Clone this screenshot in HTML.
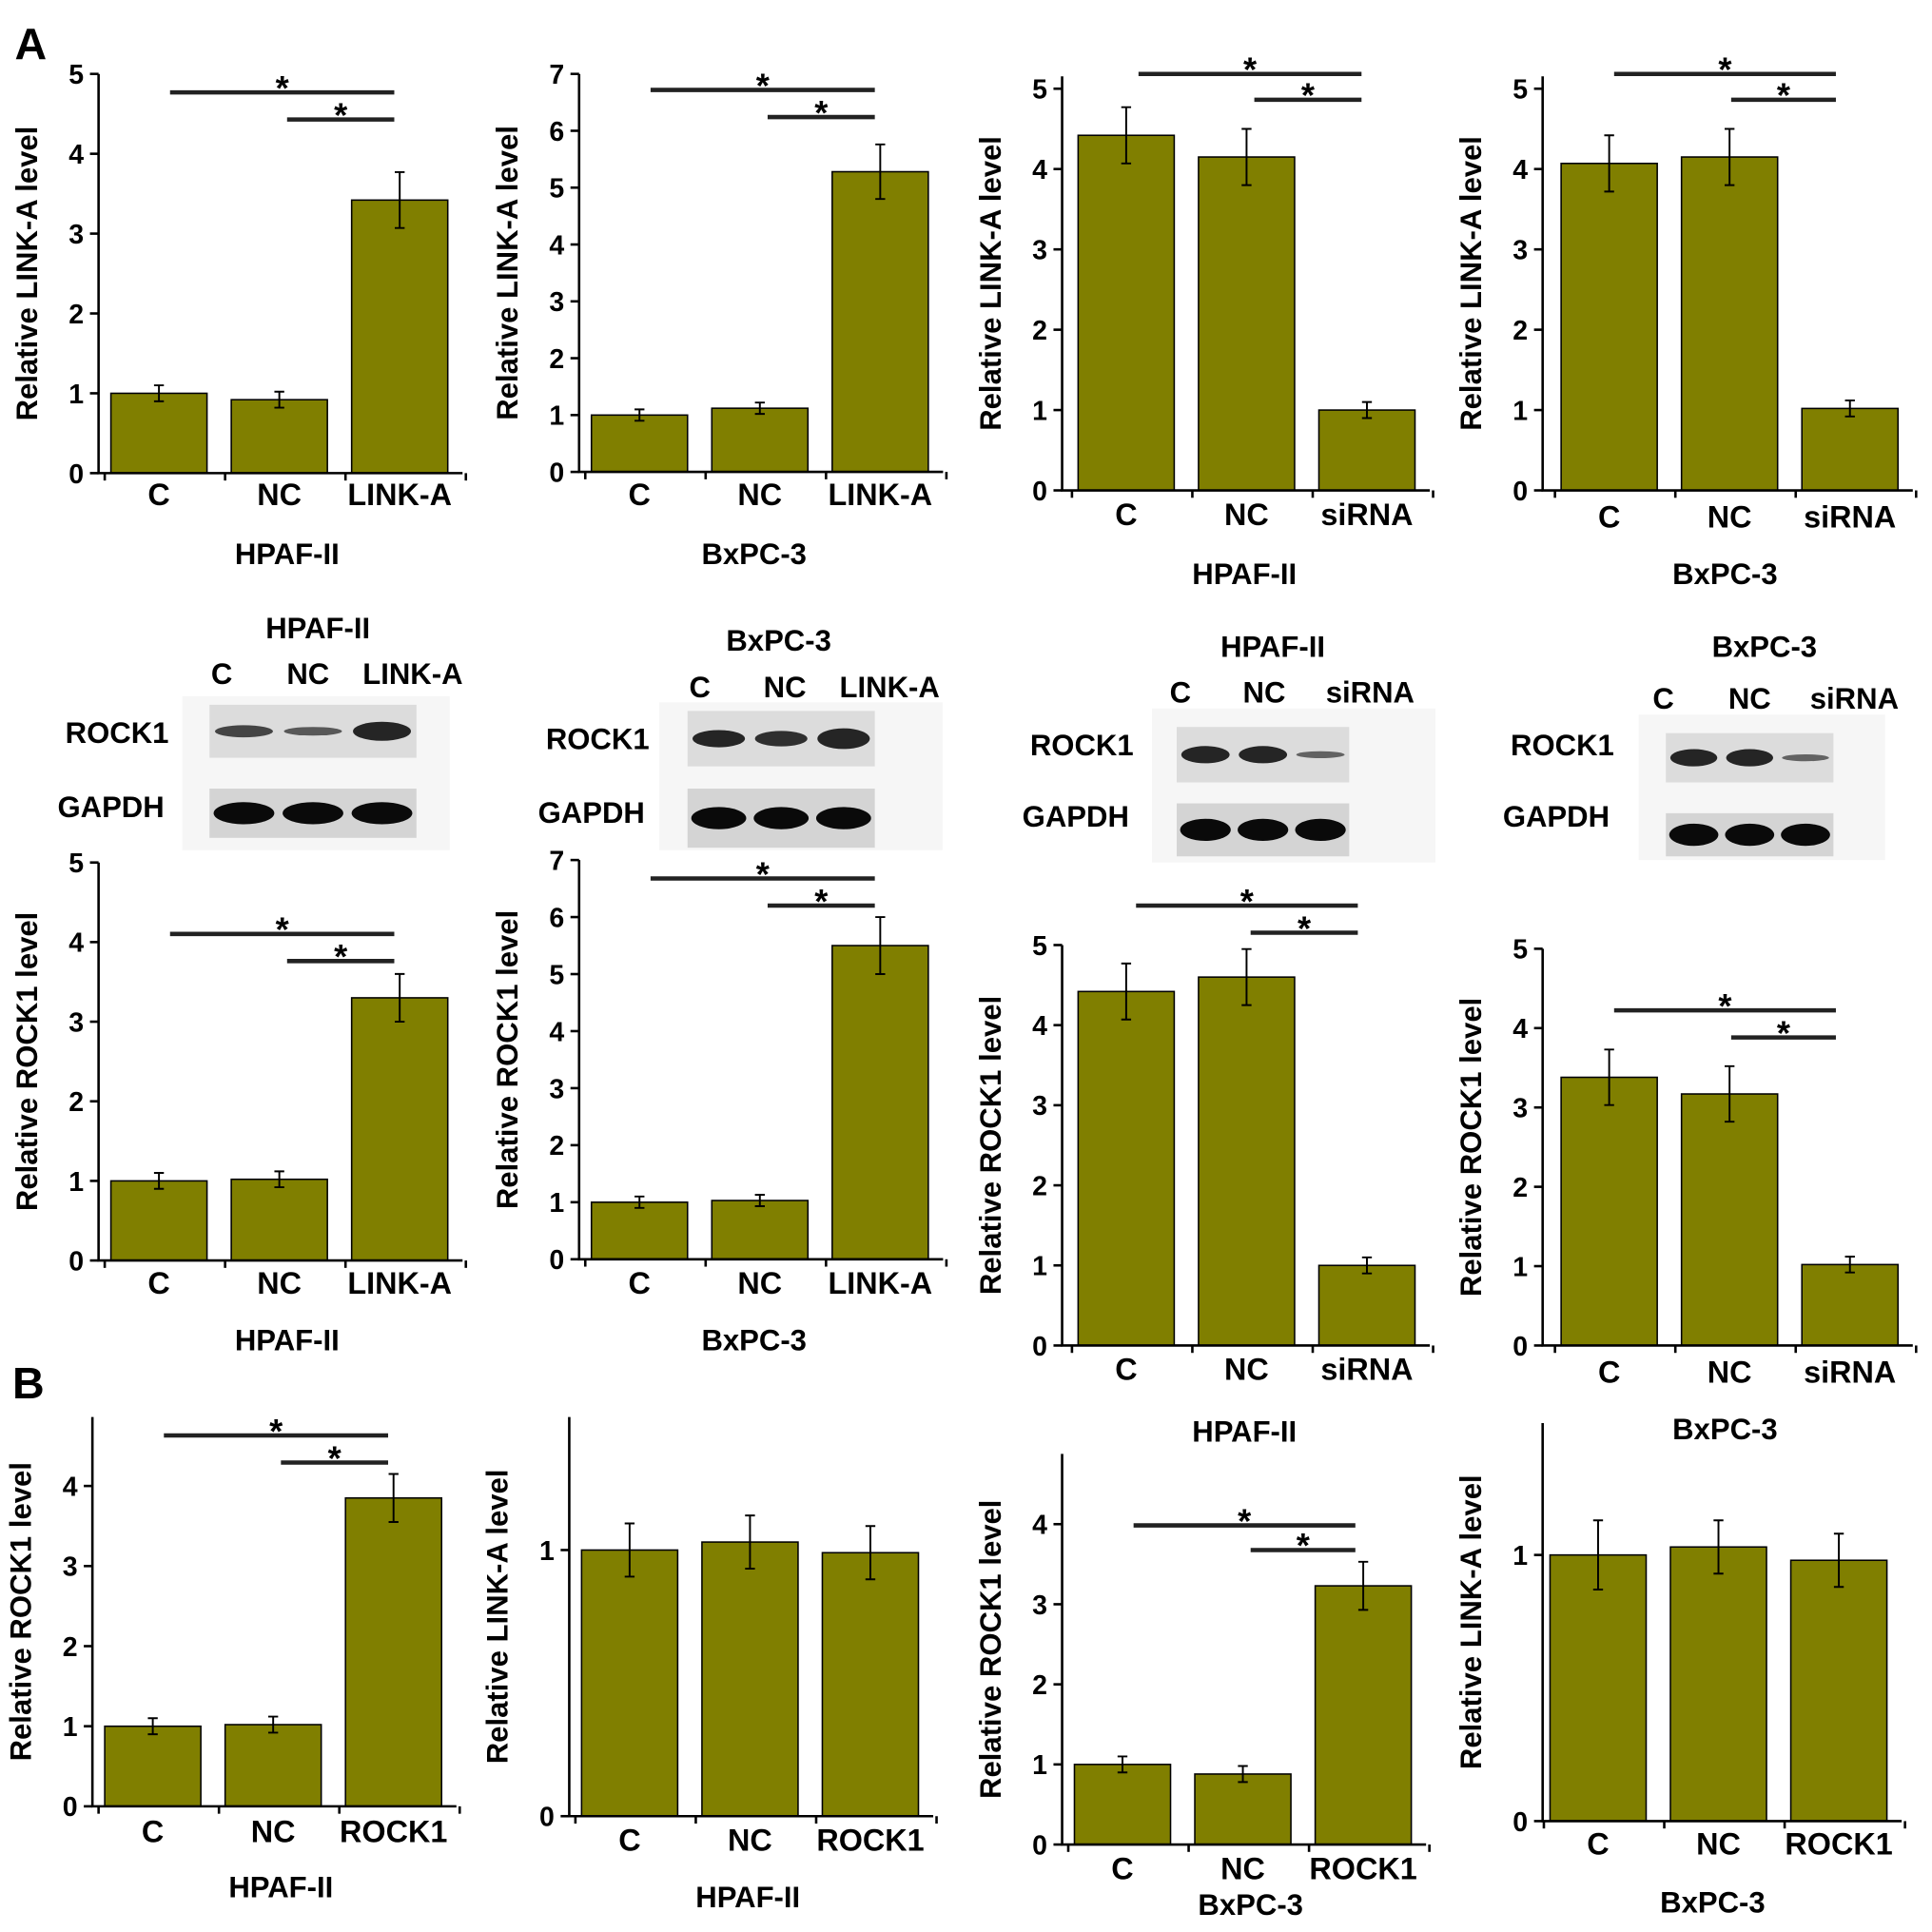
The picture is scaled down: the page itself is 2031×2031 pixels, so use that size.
<!DOCTYPE html>
<html><head><meta charset="utf-8"><style>
html,body{margin:0;padding:0;background:#fff}
svg{display:block}
text{font-family:"Liberation Sans",Arial,sans-serif;font-weight:bold;fill:#000}
</style></head><body>
<svg id="fig" width="2031" height="2031" viewBox="0 0 1568 1568" xmlns="http://www.w3.org/2000/svg">
<text x="12" y="48" font-size="36">A</text>
<text x="10" y="1135" font-size="36">B</text>
</svg>
<script>
// ---- data ----
const catsLinkA = ["C","NC","LINK-A"];
const catsSi = ["C","NC","siRNA"];
const catsRock = ["C","NC","ROCK1"];
const p1Values = [1.0, 0.92, 3.42];  const p1Errors = [0.1, 0.1, 0.35];
const p2Values = [1.0, 1.12, 5.28];  const p2Errors = [0.1, 0.1, 0.48];
const p3Values = [4.42, 4.15, 1.0];  const p3Errors = [0.35, 0.35, 0.1];
const p4Values = [4.07, 4.15, 1.02]; const p4Errors = [0.35, 0.35, 0.1];
const p5Values = [1.0, 1.02, 3.3];   const p5Errors = [0.1, 0.1, 0.3];
const p6Values = [1.0, 1.03, 5.5];   const p6Errors = [0.1, 0.1, 0.5];
const p7Values = [4.42, 4.6, 1.0];   const p7Errors = [0.35, 0.35, 0.1];
const p8Values = [3.38, 3.17, 1.02]; const p8Errors = [0.35, 0.35, 0.1];
const p9Values = [1.0, 1.02, 3.85];  const p9Errors = [0.1, 0.1, 0.3];
const p10Values = [1.0, 1.03, 0.99]; const p10Errors = [0.1, 0.1, 0.1];
const p11Values = [1.0, 0.88, 3.23]; const p11Errors = [0.1, 0.1, 0.3];
const p12Values = [1.0, 1.03, 0.98]; const p12Errors = [0.13, 0.1, 0.1];
const ticks5 = [0,1,2,3,4,5];
const ticks7 = [0,1,2,3,4,5,6,7];
const ticks4 = [0,1,2,3,4];
const ticks01 = [0,1];

// ---- layout ----
const panels = [
 {ax:80, y0:384, y1:60, max:5, top:60, ticks:ticks5, cats:catsLinkA, vals:p1Values, errs:p1Errors, bx:90, ly:410, cell:"HPAF-II", cx:233, cy:458, ytitle:"Relative LINK-A level", sig:[[75,138,320],[97,233,320]]},
 {ax:470, y0:383, y1:60, max:7, top:60, ticks:ticks7, cats:catsLinkA, vals:p2Values, errs:p2Errors, bx:480, ly:410, cell:"BxPC-3", cx:612, cy:458, ytitle:"Relative LINK-A level", sig:[[73,528,710],[95,623,710]]},
 {ax:862, y0:398, y1:72, max:5, top:62, ticks:ticks5, cats:catsSi, vals:p3Values, errs:p3Errors, bx:875, ly:426, cell:"HPAF-II", cx:1010, cy:474, ytitle:"Relative LINK-A level", sig:[[60,924,1105],[81,1018,1105]]},
 {ax:1252, y0:398, y1:72, max:5, top:62, ticks:ticks5, cats:catsSi, vals:p4Values, errs:p4Errors, bx:1267, ly:428, cell:"BxPC-3", cx:1400, cy:474, ytitle:"Relative LINK-A level", sig:[[60,1310,1490],[81,1405,1490]]},
 {ax:80, y0:1023, y1:700, max:5, top:700, ticks:ticks5, cats:catsLinkA, vals:p5Values, errs:p5Errors, bx:90, ly:1050, cell:"HPAF-II", cx:233, cy:1096, ytitle:"Relative ROCK1 level", sig:[[758,138,320],[780,233,320]]},
 {ax:470, y0:1022, y1:698, max:7, top:698, ticks:ticks7, cats:catsLinkA, vals:p6Values, errs:p6Errors, bx:480, ly:1050, cell:"BxPC-3", cx:612, cy:1096, ytitle:"Relative ROCK1 level", sig:[[713,528,710],[735,623,710]]},
 {ax:862, y0:1092, y1:767, max:5, top:767, ticks:ticks5, cats:catsSi, vals:p7Values, errs:p7Errors, bx:875, ly:1120, cell:"HPAF-II", cx:1010, cy:1170, ytitle:"Relative ROCK1 level", sig:[[735,922,1102],[757,1015,1102]]},
 {ax:1252, y0:1092, y1:770, max:5, top:770, ticks:ticks5, cats:catsSi, vals:p8Values, errs:p8Errors, bx:1267, ly:1122, cell:"BxPC-3", cx:1400, cy:1168, ytitle:"Relative ROCK1 level", sig:[[820,1310,1490],[842,1405,1490]]},
 {ax:75, y0:1466, y1:1206, max:4, top:1150, ticks:ticks4, cats:catsRock, vals:p9Values, errs:p9Errors, bx:85, ly:1495, cell:"HPAF-II", cx:228, cy:1540, ytitle:"Relative ROCK1 level", sig:[[1165,133,315],[1187,228,315]]},
 {ax:462, y0:1474, y1:1258, max:1, top:1150, ticks:ticks01, cats:catsRock, vals:p10Values, errs:p10Errors, bx:472, ly:1502, cell:"HPAF-II", cx:607, cy:1548, ytitle:"Relative LINK-A level", sig:[]},
 {ax:862, y0:1497, y1:1237, max:4, top:1180, ticks:ticks4, cats:catsRock, vals:p11Values, errs:p11Errors, bx:872, ly:1525, cell:"BxPC-3", cx:1015, cy:1554, ytitle:"Relative ROCK1 level", sig:[[1238,920,1100],[1258,1015,1100]]},
 {ax:1252, y0:1478, y1:1262, max:1, top:1155, ticks:ticks01, cats:catsRock, vals:p12Values, errs:p12Errors, bx:1258, ly:1505, cell:"BxPC-3", cx:1390, cy:1552, ytitle:"Relative LINK-A level", sig:[]}
];
const blots = [
 {title:"HPAF-II", tx:258, ty:518, lanes:["C","NC","LINK-A"], lx:[180,250,335], ly:555, rx:95, ry:603, gy:663, bx0:170, bx1:338, b1:[572,615], b2:[640,680], s1:[0.7,0.5,1.1], bg:[148,565,217,125]},
 {title:"BxPC-3", tx:632, ty:528, lanes:["C","NC","LINK-A"], lx:[568,637,722], ly:566, rx:485, ry:608, gy:668, bx0:558, bx1:710, b1:[577,622], b2:[640,688], s1:[1,0.9,1.2], bg:[535,570,230,120]},
 {title:"HPAF-II", tx:1033, ty:533, lanes:["C","NC","siRNA"], lx:[958,1026,1112], ly:570, rx:878, ry:613, gy:671, bx0:955, bx1:1095, b1:[590,635], b2:[652,695], s1:[1,1,0.4], bg:[935,575,230,125]},
 {title:"BxPC-3", tx:1432, ty:533, lanes:["C","NC","siRNA"], lx:[1350,1420,1505], ly:575, rx:1268, ry:613, gy:671, bx0:1352, bx1:1488, b1:[595,635], b2:[660,695], s1:[1,1,0.4], bg:[1330,580,200,118]}
];
const NS="http://www.w3.org/2000/svg";
const svg=document.getElementById('fig');
function mk(tag,attrs,parent){const e=document.createElementNS(NS,tag);for(const k in attrs)e.setAttribute(k,attrs[k]);(parent||svg).appendChild(e);return e;}
function txt(s,attrs,parent){const e=mk('text',attrs,parent);e.textContent=s;return e;}

panels.forEach((p,pi)=>{
  const g=mk('g',{});
  
  
  const yScale=v=>p.y0-(p.y0-p.y1)*v/p.max;
  const bw=78, step=97.7;
  const axEnd=p.bx+step*2+bw+12;
  // bars
  p.vals.forEach((v,i)=>{
    const x=p.bx+i*step, y=yScale(v);
    const r=mk('rect',{x:x,y:y,width:bw,height:p.y0-y,fill:'#807f00',stroke:'#000','stroke-width':1.2},g);
    
    
    const cx=x+bw/2, e=p.errs[i];
    const eb=mk('path',{d:`M${cx},${yScale(v+e)}V${yScale(v-e)}M${cx-4},${yScale(v+e)}H${cx+4}M${cx-4},${yScale(v-e)}H${cx+4}`,stroke:'#000','stroke-width':1.5,fill:'none'},g);
    
    
    const lb=txt(p.cats[i],{x:cx,y:p.ly,'font-size':25,'text-anchor':'middle'},g);
    
    
  });
  // axes
  const ax=mk('path',{d:`M${p.ax},${p.top}V${p.y0}H${axEnd}`,stroke:'#000','stroke-width':2,fill:'none'},g);
  
  
  p.ticks.forEach(t=>{
    const y=yScale(t);
    mk('line',{x1:p.ax-7,x2:p.ax,y1:y,y2:y,stroke:'#000','stroke-width':2},g);
    const tl=txt(String(t),{x:p.ax-12,y:y+8,'font-size':22,'text-anchor':'end'},g);
    
    
  });
  for(let i=0;i<=3;i++){const x=p.bx-5+i*step;mk('line',{x1:x,x2:x,y1:p.y0,y2:p.y0+6,stroke:'#000','stroke-width':2},g);}
  const ymid=(p.top+p.y0)/2;
  const yt=txt(p.ytitle,{x:p.ax-50,y:ymid,'font-size':24,'text-anchor':'middle',transform:`rotate(-90 ${p.ax-50} ${ymid})`},g);
  
  
  const cl=txt(p.cell,{x:p.cx,y:p.cy,'font-size':24,'text-anchor':'middle'},g);
  
  
  p.sig.forEach(s=>{
    const l=mk('line',{x1:s[1],x2:s[2],y1:s[0],y2:s[0],stroke:'#222','stroke-width':3.5},g);
    
    
    const st=txt('*',{x:(s[1]+s[2])/2,y:s[0]+6,'font-size':28,'text-anchor':'middle'},g);
    
    
  });
});

blots.forEach((b,bi)=>{
  const g=mk('g',{});
  
  
  mk('rect',{x:b.bg[0],y:b.bg[1],width:b.bg[2],height:b.bg[3],fill:'#f6f6f6'},g);
  txt(b.title,{x:b.tx,y:b.ty,'font-size':24,'text-anchor':'middle'},g);
  b.lanes.forEach((l,i)=>txt(l,{x:b.lx[i],y:b.ly,'font-size':24,'text-anchor':'middle'},g));
  txt('ROCK1',{x:b.rx,y:b.ry,'font-size':24,'text-anchor':'middle'},g);
  txt('GAPDH',{x:b.rx-5,y:b.gy,'font-size':24,'text-anchor':'middle'},g);
  const w=b.bx1-b.bx0, lw=w/3;
  const r1=mk('rect',{x:b.bx0,y:b.b1[0],width:w,height:b.b1[1]-b.b1[0],fill:'#dcdcdc'},g);
  
  
  const r2=mk('rect',{x:b.bx0,y:b.b2[0],width:w,height:b.b2[1]-b.b2[0],fill:'#d4d4d4'},g);
  
  
  for(let i=0;i<3;i++){
    const cx=b.bx0+lw*(i+0.5);
    mk('ellipse',{cx:cx,cy:(b.b1[0]+b.b1[1])/2,rx:lw*0.42,ry:7*b.s1[i],fill:'#111',opacity:0.4+0.5*Math.min(1,b.s1[i])},g);
    mk('ellipse',{cx:cx,cy:(b.b2[0]+b.b2[1])/2,rx:lw*0.44,ry:9,fill:'#0a0a0a'},g);
  }
});
</script>
</body></html>
